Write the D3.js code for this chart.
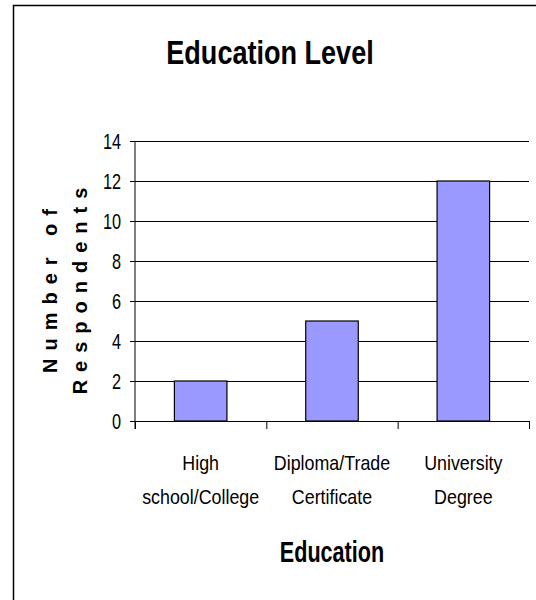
<!DOCTYPE html>
<html>
<head>
<meta charset="utf-8">
<script src="https://cdn.jsdelivr.net/npm/d3@7"></script>
<style>
  body { margin: 0; background: #fff; }
  text { font-family: "Liberation Sans", Arial, sans-serif; fill: #000; }
</style>
</head>
<body>
<div id="chart"></div>
<script>
// data
const categories = ["High school/College", "Diploma/Trade Certificate", "University Degree"];
const categoryLines = [["High", "school/College"], ["Diploma/Trade", "Certificate"], ["University", "Degree"]];
const values = [2, 5, 12];
const yTicks = [0, 2, 4, 6, 8, 10, 12, 14];

const chartTitle = "Education Level";
const xTitle = "Education";
const yTitleLines = ["Number of", "Respondents"];

const width = 536, height = 600;
const plot = {left: 135, right: 529, top: 141, bottom: 421};

const svg = d3.select("#chart")
    .append("svg")
    .attr("width", width)
    .attr("height", height);

// outer chart frame (runs off the right and bottom of the window)
svg.append("rect")
    .attr("x", 13.5).attr("y", 5.5)
    .attr("width", 700).attr("height", 800)
    .attr("fill", "none")
    .attr("stroke", "#000")
    .attr("stroke-width", 1.5);

const x = d3.scaleBand()
    .domain(categories)
    .range([plot.left, plot.right])
    .paddingInner(0.6)
    .paddingOuter(0.3);

const y = d3.scaleLinear()
    .domain([0, 14])
    .range([plot.bottom, plot.top]);

// gridlines
svg.append("g")
    .attr("transform", `translate(${plot.left},0)`)
    .call(d3.axisLeft(y).tickValues(yTicks.slice(1)).tickSize(-(plot.right - plot.left)).tickFormat(""))
    .call(g => g.select(".domain").remove())
    .call(g => g.selectAll("line").attr("stroke", "#000"));

// y axis
svg.append("g")
    .attr("transform", `translate(${plot.left},0)`)
    .call(d3.axisLeft(y).tickValues(yTicks).tickSize(5))
    .call(g => g.select(".domain").attr("d", `M0,${plot.top}V${plot.bottom + 8}`))
    .call(g => g.selectAll("text")
        .attr("x", 0)
        .attr("transform", "translate(-14,0) scale(0.74,1)")
        .attr("font-size", 22)
        .attr("font-family", null));

// x axis, ticks sit between categories
const xEdge = d3.scaleLinear().domain([0, categories.length]).range([plot.left, plot.right]);
svg.append("g")
    .attr("transform", `translate(0,${plot.bottom})`)
    .call(d3.axisBottom(xEdge).tickValues(d3.range(categories.length + 1)).tickSize(8).tickFormat(""));

// bars
svg.append("g")
    .selectAll("rect")
    .data(values)
    .join("rect")
    .attr("x", (d, i) => x(categories[i]))
    .attr("y", d => y(d))
    .attr("width", x.bandwidth())
    .attr("height", d => y(0) - y(d))
    .attr("fill", "#9999ff")
    .attr("stroke", "#000")
    .attr("stroke-width", 1.2);

// category labels
categoryLines.forEach((lines, i) => {
    const cx = x(categories[i]) + x.bandwidth() / 2;
    lines.forEach((line, j) => {
        svg.append("text")
            .attr("transform", `translate(${cx},${470 + j * 34}) scale(0.85,1)`)
            .attr("text-anchor", "middle")
            .attr("font-size", 21)
            .text(line);
    });
});

// titles
svg.append("text")
    .attr("transform", "translate(270,64) scale(0.82,1)")
    .attr("text-anchor", "middle")
    .attr("font-size", 33)
    .attr("font-weight", "bold")
    .text(chartTitle);

svg.append("text")
    .attr("transform", `translate(${(plot.left + plot.right) / 2},562) scale(0.72,1)`)
    .attr("text-anchor", "middle")
    .attr("font-size", 30)
    .attr("font-weight", "bold")
    .text(xTitle);

const yTitle = svg.append("g")
    .attr("transform", "translate(57,287) rotate(-90)");
yTitleLines.forEach((line, j) => {
    yTitle.append("text")
        .attr("y", j * 30)
        .attr("text-anchor", "middle")
        .attr("font-size", 20)
        .attr("font-weight", "bold")
        .attr("letter-spacing", "8px")
        .text(line);
});
</script>
</body>
</html>
